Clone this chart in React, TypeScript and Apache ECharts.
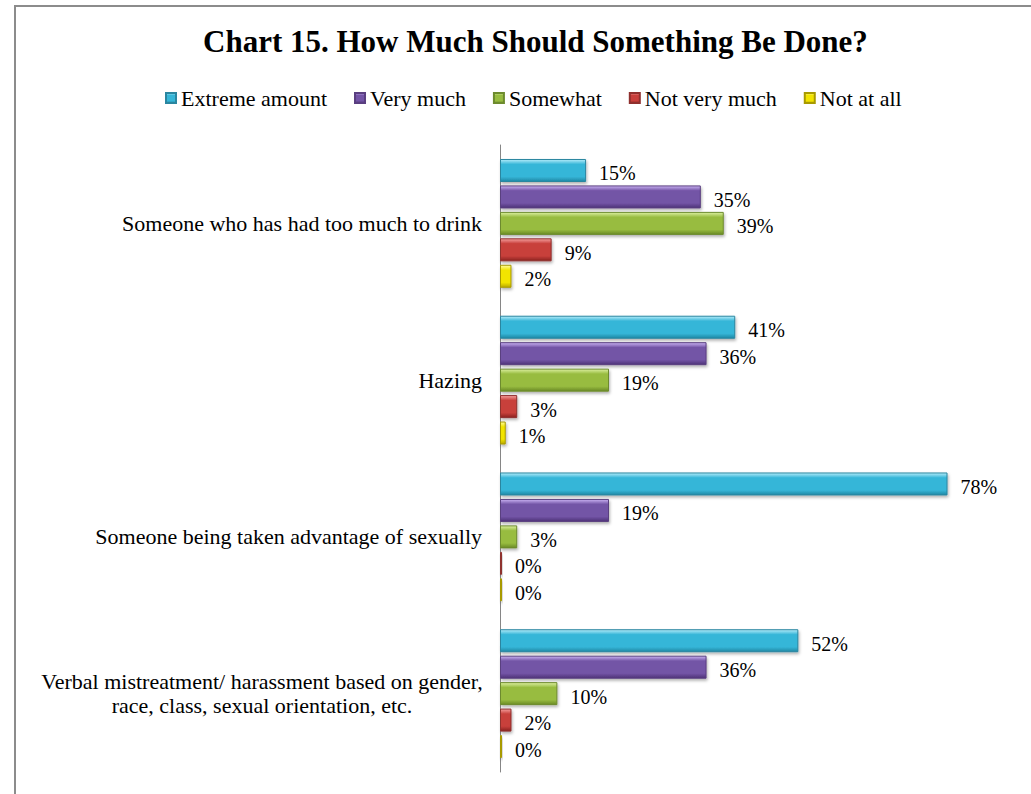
import React, { useEffect, useRef } from "react";
import * as echarts from "echarts";

const categories = [
  "Someone who has had too much to drink",
  "Hazing",
  "Someone being taken advantage of sexually",
  "Verbal mistreatment/ harassment based on gender,\nrace, class, sexual orientation, etc.",
];
const seriesNames = ["Extreme amount", "Very much", "Somewhat", "Not very much", "Not at all"];
const extremeAmount = [15, 41, 78, 52];
const veryMuch = [35, 36, 19, 36];
const somewhat = [39, 19, 3, 10];
const notVeryMuch = [9, 3, 0, 2];
const notAtAll = [2, 1, 0, 0];

const FONT = "'Liberation Serif', 'Times New Roman', serif";

const palettes = [
  { top: "#b4ecfa", mid: "#36b6d8", bot: "#1f88a4", border: "#2a86a0" },
  { top: "#c9b2f2", mid: "#7354a6", bot: "#4e3377", border: "#5a3f80" },
  { top: "#dcf0a0", mid: "#98bc40", bot: "#6a8a25", border: "#6d8b2e" },
  { top: "#f5a09e", mid: "#c83f3b", bot: "#8a2220", border: "#8f302e" },
  { top: "#fffca0", mid: "#f2e400", bot: "#b9a900", border: "#a89a00" },
];

function grad(p: { top: string; mid: string; bot: string }) {
  return new echarts.graphic.LinearGradient(0, 0, 0, 1, [
    { offset: 0, color: p.top },
    { offset: 0.22, color: p.mid },
    { offset: 0.78, color: p.mid },
    { offset: 1, color: p.bot },
  ]);
}

export default function App() {
  const ref = useRef<HTMLDivElement>(null);
  useEffect(() => {
    if (!ref.current) return;
    const chart = echarts.init(ref.current, null, { renderer: "svg" });
    const values = [extremeAmount, veryMuch, somewhat, notVeryMuch, notAtAll];
    const axisData = categories.map((c, i) =>
      i === 3
        ? { value: c, textStyle: { align: "center", padding: [0, 440, 0, 0], lineHeight: 24 } }
        : c
    );
    chart.setOption({
      animation: false,
      backgroundColor: "#ffffff",
      textStyle: { fontFamily: FONT },
      title: {
        text: "Chart 15. How Much Should Something Be Done?",
        left: 198,
        top: 21,
        textStyle: { fontFamily: FONT, fontSize: 31, fontWeight: "bold", color: "#000" },
      },
      legend: {
        top: 82,
        left: 160,
        itemWidth: 10,
        itemHeight: 10,
        itemGap: 27,
        icon: "rect",
        textStyle: { fontFamily: FONT, fontSize: 22, color: "#000" },
        data: seriesNames,
      },
      grid: { left: 500, top: 145, width: 459, height: 627, containLabel: false },
      xAxis: { type: "value", min: 0, max: 80, show: false, splitLine: { show: false } },
      yAxis: {
        type: "category",
        inverse: true,
        data: axisData,
        axisLine: { show: true, lineStyle: { color: "#868686", width: 1 } },
        axisTick: { show: false },
        axisLabel: {
          interval: 0,
          margin: 18,
          fontFamily: FONT,
          fontSize: 22,
          color: "#000",
          lineHeight: 24,
        },
      },
      graphic: [
        {
          type: "rect",
          shape: { x: 15, y: 6, width: 1200, height: 1000 },
          style: { fill: "none", stroke: "#8c8c8c", lineWidth: 2 },
          silent: true,
        },
      ],
      series: seriesNames.map((name, i) => ({
        name,
        type: "bar",
        data: values[i],
        barWidth: 23,
        barGap: "15%",
        barMinHeight: 2,
        itemStyle: {
          color: grad(palettes[i]),
          borderColor: palettes[i].border,
          borderWidth: 1,
          shadowColor: "rgba(0,0,0,0.3)",
          shadowBlur: 3,
          shadowOffsetX: 1,
          shadowOffsetY: 2,
        },
        label: {
          show: true,
          position: "right",
          distance: 13,
          offset: [0, 3],
          formatter: (p: any) => Math.round(p.value) + "%",
          fontFamily: FONT,
          fontSize: 20,
          color: "#000",
        },
      })),
    });
    return () => chart.dispose();
  }, []);
  return (
    <div
      ref={ref}
      style={{ position: "fixed", left: 0, top: 0, width: 1031, height: 794 }}
    />
  );
}
